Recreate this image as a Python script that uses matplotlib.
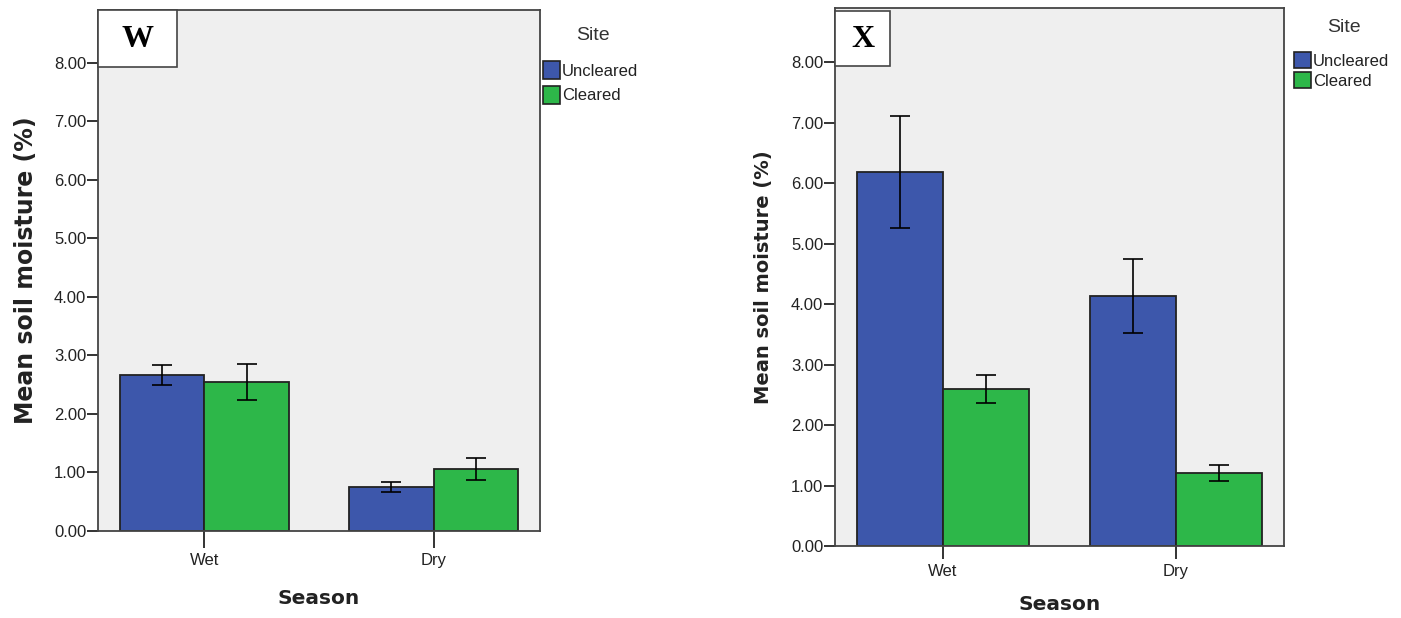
import matplotlib
matplotlib.use("Agg")
import matplotlib.pyplot as plt
from matplotlib.patches import Rectangle
import numpy as np

# Soil moisture data (mean with error bar limits) per season and site
seasons = ["Wet", "Dry"]
sites = ["Uncleared", "Cleared"]

w_uncleared = [2.67, 0.76]
w_uncleared_lo = [2.49, 0.66]
w_uncleared_hi = [2.84, 0.84]
w_cleared = [2.55, 1.06]
w_cleared_lo = [2.24, 0.87]
w_cleared_hi = [2.86, 1.25]

x_uncleared = [6.19, 4.14]
x_uncleared_lo = [5.26, 3.53]
x_uncleared_hi = [7.12, 4.75]
x_cleared = [2.60, 1.21]
x_cleared_lo = [2.37, 1.08]
x_cleared_hi = [2.83, 1.34]

yticks = [0, 1, 2, 3, 4, 5, 6, 7, 8]

BLUE = "#3D57AB"
GREEN = "#2DB749"
EDGE = "#222222"
BG = "#EFEFEF"
TXT = "#222222"

W, H = 1401, 618
fig = plt.figure(figsize=(W / 100, H / 100), dpi=100)
fig.patch.set_facecolor("white")


def fx(px):
    return px / W


def fy(py):
    return 1 - py / H


def px_axes(x0, x1, top, bottom):
    return fig.add_axes([fx(x0), fy(bottom), (x1 - x0) / W, (bottom - top) / H])


def draw_panel(ax, geom, unc, unc_lo, unc_hi, clr, clr_lo, clr_hi, letter, box,
               xtick_len, xtick_pad, xlab_y, ylab_x, ylab_size, legend):
    x0, x1, top, bottom = geom
    pos = np.arange(len(seasons))
    bw = 0.37
    series = [(unc, unc_lo, unc_hi, BLUE, -bw / 2), (clr, clr_lo, clr_hi, GREEN, bw / 2)]
    for vals, lo, hi, col, off in series:
        vals = np.array(vals)
        yerr = np.vstack([vals - np.array(lo), np.array(hi) - vals])
        ax.bar(pos + off, vals, width=bw, color=col, edgecolor=EDGE, linewidth=1.3, zorder=2)
        ax.errorbar(pos + off, vals, yerr=yerr, fmt="none", ecolor="black",
                    elinewidth=1.2, capsize=7.3, capthick=1.2, zorder=3)
    ax.set_facecolor(BG)
    ax.set_xlim(-0.464, 1.464)
    ax.set_ylim(0, 8.9)
    ax.set_yticks(yticks)
    ax.set_yticklabels([f"{t:.2f}" for t in yticks])
    ax.set_xticks(pos)
    ax.set_xticklabels(seasons)
    ax.tick_params(axis="y", direction="out", length=8, width=1.4, labelsize=12,
                   colors="#333333", labelcolor=TXT, pad=0.5)
    ax.tick_params(axis="x", direction="out", length=xtick_len, width=1.4, labelsize=12,
                   colors="#333333", labelcolor=TXT, pad=xtick_pad)
    for s in ax.spines.values():
        s.set_color("#444444")
        s.set_linewidth(1.3)

    hpx = bottom - top
    wpx = x1 - x0
    ax.set_ylabel("Mean soil moisture (%)", fontsize=ylab_size, fontweight="bold",
                  color=TXT, family="DejaVu Sans")
    ax.yaxis.set_label_coords((ylab_x - x0) / wpx, 0.5)
    ax.yaxis.label.set_va("center")
    ax.set_xlabel("Season", fontsize=14.5, fontweight="bold", color=TXT, family="DejaVu Sans")
    ax.xaxis.set_label_coords(0.5, (bottom - xlab_y) / hpx)
    ax.xaxis.label.set_va("center")

    # Panel letter in a white box at the top-left corner
    bx0, by0, bx1, by1 = box
    fig.add_artist(Rectangle((fx(bx0), fy(by1)), (bx1 - bx0) / W, (by1 - by0) / H,
                             transform=fig.transFigure, facecolor="white",
                             edgecolor="#444444", linewidth=1.2, zorder=5))
    fig.text(fx((bx0 + bx1) / 2), fy((by0 + by1) / 2 + 1), letter, ha="center", va="center",
             fontsize=23, fontweight="bold", family="Liberation Serif", zorder=6)

    # Legend: title, colour keys and labels
    title_xy, key_x, key_w, key_h, rows, lab_size = legend
    fig.text(fx(title_xy[0]), fy(title_xy[1]), "Site", ha="center", va="center",
             fontsize=14, color="#333333")
    for (cy, col, name) in zip(rows, [BLUE, GREEN], sites):
        fig.add_artist(Rectangle((fx(key_x), fy(cy + key_h / 2)), key_w / W, key_h / H,
                                 transform=fig.transFigure, facecolor=col,
                                 edgecolor=EDGE, linewidth=1.2))
        fig.text(fx(key_x + key_w + 2), fy(cy + 1), name, ha="left", va="center",
                 fontsize=lab_size, color=TXT)


plt.rcParams["font.family"] = ["Liberation Sans", "DejaVu Sans"]

g1 = (98, 540, 10, 531)
g2 = (835, 1284, 8, 546)
ax1 = px_axes(*g1)
ax2 = px_axes(*g2)

draw_panel(ax1, g1, w_uncleared, w_uncleared_lo, w_uncleared_hi,
           w_cleared, w_cleared_lo, w_cleared_hi, "W", (98, 10, 177, 67),
           12, 4, 598, 26, 17,
           ((593, 35), 543, 17, 18, (70, 95), 12))
draw_panel(ax2, g2, x_uncleared, x_uncleared_lo, x_uncleared_hi,
           x_cleared, x_cleared_lo, x_cleared_hi, "X", (835, 11, 890, 66),
           9, 4, 605, 764, 14,
           ((1344, 28), 1294, 17, 16, (60, 80), 12))

fig.savefig("out.png", dpi=100, facecolor="white")
